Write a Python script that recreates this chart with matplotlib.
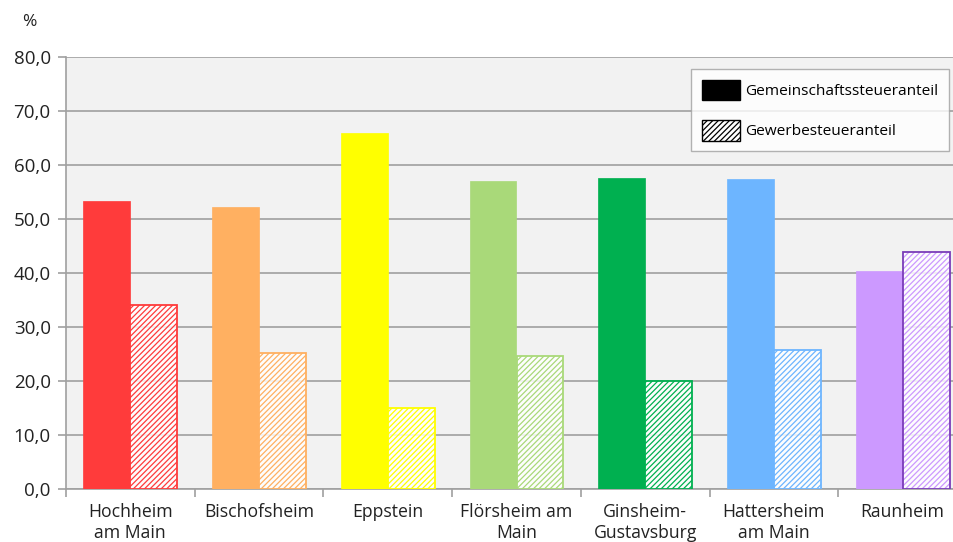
import matplotlib
matplotlib.use("Agg")
import matplotlib.pyplot as plt
from matplotlib.patches import Patch
import numpy as np

categories = ["Hochheim\nam Main", "Bischofsheim", "Eppstein", "Flörsheim am\nMain",
              "Ginsheim-\nGustavsburg", "Hattersheim\nam Main", "Raunheim"]
gemeinschaft = [53.3, 52.2, 65.9, 57.0, 57.6, 57.4, 40.4]
gewerbe = [34.0, 25.1, 15.0, 24.6, 20.0, 25.7, 43.9]
colors = ["#FF3B3B", "#FFB061", "#FFFF00", "#A9D979", "#00B050", "#6DB5FF", "#CC99FF"]
hatch_edges = ["#FF3B3B", "#FFB061", "#FFFF00", "#A9D979", "#00B050", "#6DB5FF", "#7A3DB8"]
yticks = [0, 10, 20, 30, 40, 50, 60, 70, 80]
series_names = ["Gemeinschaftssteueranteil", "Gewerbesteueranteil"]

plt.rcParams['font.family'] = ['Open Sans', 'DejaVu Sans']
plt.rcParams['hatch.linewidth'] = 0.9

W, H = 954, 542
fig = plt.figure(figsize=(W / 100, H / 100), dpi=100)
ax = fig.add_axes([66 / W, 53 / H, 901 / W, 432 / H])
ax.set_facecolor("#F2F2F2")

x = np.arange(len(categories))
bw = 0.365
ax.bar(x - bw / 2, gemeinschaft, width=bw, color=colors, edgecolor=colors, linewidth=0.5, zorder=3)
for i in range(len(categories)):
    # hatched fill (hatch in series colour, slightly translucent white face)
    ax.bar(x[i] + bw / 2, gewerbe[i], width=bw, facecolor=(1, 1, 1, 0.85), edgecolor=colors[i],
           hatch="//////", linewidth=0, zorder=3)
    # outline
    ax.bar(x[i] + bw / 2, gewerbe[i], width=bw, facecolor="none", edgecolor=hatch_edges[i],
           linewidth=1.3, zorder=4)

ax.set_ylim(0, 80)
ax.set_xlim(-0.5, len(categories) - 0.5)
ax.set_yticks(yticks)
ax.set_yticklabels([f"{v:.1f}".replace(".", ",") for v in yticks], fontsize=13.5, color="#222222")
ax.yaxis.grid(True, color="#A0A0A0", linewidth=1.2, zorder=0)
ax.set_axisbelow(True)

ax.set_xticks(np.arange(len(categories) + 1) - 0.5)
ax.set_xticklabels([])
ax.set_xticks(x, minor=True)
ax.set_xticklabels(categories, minor=True, fontsize=12.7, color="#222222", linespacing=1.25)
ax.tick_params(axis="x", which="minor", length=0, pad=10)
ax.tick_params(axis="x", which="major", length=6, color="#A0A0A0", width=1.2)
ax.tick_params(axis="y", length=6, color="#A0A0A0", width=1.2, pad=5)

for s in ["top", "right"]:
    ax.spines[s].set_visible(False)
for s in ["left", "bottom"]:
    ax.spines[s].set_color("#A0A0A0")
    ax.spines[s].set_linewidth(1.2)

fig.text(22 / W, 1 - 22 / H, "%", fontsize=12.5, color="#222222", va="center", ha="left")

handles = [Patch(facecolor="black", edgecolor="black"),
           Patch(facecolor="white", edgecolor="black", hatch="//////")]
leg = ax.legend(handles, series_names, loc="upper left", bbox_to_anchor=(0.694, 0.972),
                fontsize=11.1, frameon=True, fancybox=False, handlelength=2.45, handleheight=1.65,
                borderpad=0.7, labelspacing=1.3, handletextpad=0.35, borderaxespad=0)
leg.get_frame().set_edgecolor("#A0A0A0")
leg.get_frame().set_linewidth(1.0)

fig.savefig("out.png", dpi=100)
